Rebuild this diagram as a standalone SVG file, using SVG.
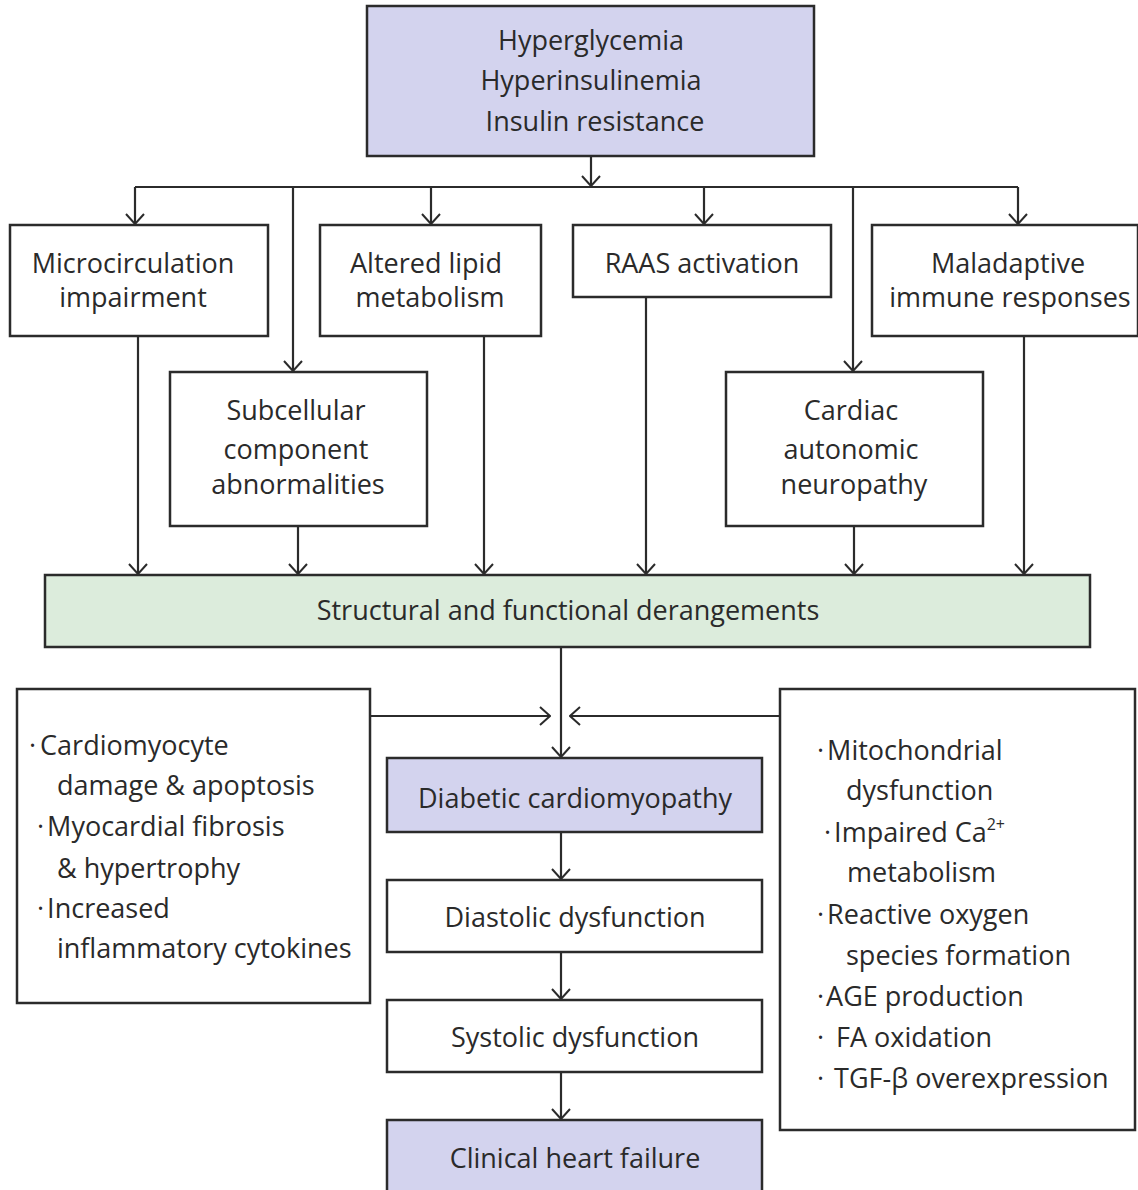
<svg xmlns="http://www.w3.org/2000/svg" width="1138" height="1190" viewBox="0 0 1138 1190">
<defs>
<style>
.box{fill:#fff;stroke:#2b2b2b;stroke-width:2.5}
.lav{fill:#d3d3ee;stroke:#2b2b2b;stroke-width:2.5}
.grn{fill:#dcecdc;stroke:#2b2b2b;stroke-width:2.5}
.t{font-family:"Open Sans","Noto Sans",sans-serif;font-size:27px;fill:#2a2a2a;text-anchor:middle}
.l{font-family:"Open Sans","Noto Sans",sans-serif;font-size:27px;fill:#2a2a2a}
.c{fill:none;stroke:#2b2b2b;stroke-width:2.2}
</style>
<marker id="a" viewBox="0 0 12 20" refX="11" refY="10" markerWidth="12" markerHeight="20" markerUnits="userSpaceOnUse" orient="auto">
<path d="M1,1 L11,10 L1,19" fill="none" stroke="#2b2b2b" stroke-width="2"/>
</marker>
</defs>
<rect width="1138" height="1190" fill="#fff"/>
<g id="connectors">
<path class="c" d="M591,156 V186" marker-end="url(#a)"/>
<path class="c" d="M135,187 H1018"/>
<path class="c" d="M135,187 V224" marker-end="url(#a)"/>
<path class="c" d="M293,187 V371" marker-end="url(#a)"/>
<path class="c" d="M431,187 V224" marker-end="url(#a)"/>
<path class="c" d="M704,187 V224" marker-end="url(#a)"/>
<path class="c" d="M853,187 V371" marker-end="url(#a)"/>
<path class="c" d="M1018,187 V224" marker-end="url(#a)"/>
<path class="c" d="M138,336 V574" marker-end="url(#a)"/>
<path class="c" d="M298,526 V574" marker-end="url(#a)"/>
<path class="c" d="M484,336 V574" marker-end="url(#a)"/>
<path class="c" d="M646,297 V574" marker-end="url(#a)"/>
<path class="c" d="M854,526 V574" marker-end="url(#a)"/>
<path class="c" d="M1024,336 V574" marker-end="url(#a)"/>
<path class="c" d="M561,647 V757" marker-end="url(#a)"/>
<path class="c" d="M370,716 H550" marker-end="url(#a)"/>
<path class="c" d="M780,716 H570" marker-end="url(#a)"/>
<path class="c" d="M561,832 V879" marker-end="url(#a)"/>
<path class="c" d="M561,952 V999" marker-end="url(#a)"/>
<path class="c" d="M561,1072 V1119" marker-end="url(#a)"/>
</g>
<g id="top">
<rect class="lav" x="367" y="6" width="447" height="150"/>
<text class="t" x="591" y="50">Hyperglycemia</text>
<text class="t" x="591" y="90">Hyperinsulinemia</text>
<text class="t" x="595" y="131">Insulin resistance</text>
</g>
<g id="micro">
<rect class="box" x="10" y="225" width="258" height="111"/>
<text class="t" x="133" y="273">Microcirculation</text>
<text class="t" x="133" y="307">impairment</text>
</g>
<g id="lipid">
<rect class="box" x="320" y="225" width="221" height="111"/>
<text class="t" x="426" y="273">Altered lipid</text>
<text class="t" x="430" y="307">metabolism</text>
</g>
<g id="raas">
<rect class="box" x="573" y="225" width="258" height="72"/>
<text class="t" x="702" y="273">RAAS activation</text>
</g>
<g id="immune">
<rect class="box" x="872" y="225" width="266" height="111"/>
<text class="t" x="1008" y="273">Maladaptive</text>
<text class="t" x="1010" y="307">immune responses</text>
</g>
<g id="subcellular">
<rect class="box" x="170" y="372" width="257" height="154"/>
<text class="t" x="296" y="420">Subcellular</text>
<text class="t" x="296" y="459">component</text>
<text class="t" x="298" y="494">abnormalities</text>
</g>
<g id="cardiac">
<rect class="box" x="726" y="372" width="257" height="154"/>
<text class="t" x="851" y="420">Cardiac</text>
<text class="t" x="851" y="459">autonomic</text>
<text class="t" x="854" y="494">neuropathy</text>
</g>
<g id="structural">
<rect class="grn" x="45" y="575" width="1045" height="72"/>
<text class="t" x="568" y="620">Structural and functional derangements</text>
</g>
<g id="leftlist">
<rect class="box" x="17" y="689" width="353" height="314"/>
<text class="l" x="29" y="755">·<tspan dx="4">Cardiomyocyte</tspan></text>
<text class="l" x="57" y="795">damage &amp; apoptosis</text>
<text class="l" x="37" y="836">·<tspan dx="3">Myocardial fibrosis</tspan></text>
<text class="l" x="57" y="878">&amp; hypertrophy</text>
<text class="l" x="37" y="918">·<tspan dx="3">Increased</tspan></text>
<text class="l" x="57" y="958">inflammatory cytokines</text>
</g>
<g id="rightlist">
<rect class="box" x="780" y="689" width="355" height="441"/>
<text class="l" x="817" y="760">·<tspan dx="3">Mitochondrial</tspan></text>
<text class="l" x="846" y="800">dysfunction</text>
<text class="l" x="824" y="842">·<tspan dx="3">Impaired Ca</tspan><tspan font-size="16" dy="-12">2+</tspan></text>
<text class="l" x="847" y="882">metabolism</text>
<text class="l" x="817" y="924">·<tspan dx="3">Reactive oxygen</tspan></text>
<text class="l" x="846" y="965">species formation</text>
<text class="l" x="817" y="1006">·<tspan dx="2">AGE production</tspan></text>
<text class="l" x="817" y="1047">·<tspan dx="12">FA oxidation</tspan></text>
<text class="l" x="817" y="1088">·<tspan dx="10">TGF-β overexpression</tspan></text>
</g>
<g id="dcm">
<rect class="lav" x="387" y="758" width="375" height="74"/>
<text class="t" x="575" y="808">Diabetic cardiomyopathy</text>
</g>
<g id="diastolic">
<rect class="box" x="387" y="880" width="375" height="72"/>
<text class="t" x="575" y="927">Diastolic dysfunction</text>
</g>
<g id="systolic">
<rect class="box" x="387" y="1000" width="375" height="72"/>
<text class="t" x="575" y="1047">Systolic dysfunction</text>
</g>
<g id="hf">
<rect class="lav" x="387" y="1120" width="375" height="80"/>
<text class="t" x="575" y="1168">Clinical heart failure</text>
</g>
</svg>
